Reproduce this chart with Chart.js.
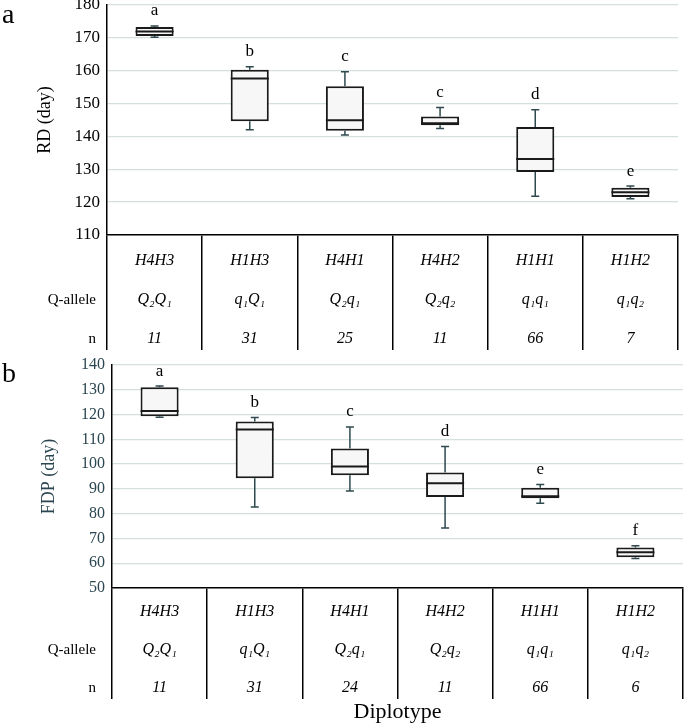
<!DOCTYPE html>
<html>
<head>
<meta charset="utf-8">
<script src="https://cdn.jsdelivr.net/npm/chart.js@4.4.1/dist/chart.umd.min.js"></script>
<style>
  html, body { margin: 0; padding: 0; background: #fff; }
  #wrap { position: relative; width: 685px; height: 724px; overflow: hidden; }
  canvas { position: absolute; left: 0; }
  #chartA { top: 0; }
  #chartB { top: 355px; }
</style>
</head>
<body>
<div id="wrap">
  <canvas id="chartA" width="685" height="355"></canvas>
  <canvas id="chartB" width="685" height="369"></canvas>
</div>
<script>
// categories
const diplotypes = ['H4H3', 'H1H3', 'H4H1', 'H4H2', 'H1H1', 'H1H2'];
const qAlleles = ['Q₂Q₁', 'q₁Q₁', 'Q₂q₁', 'Q₂q₂', 'q₁q₁', 'q₁q₂'];

// (a) RD (day)
const rdN = [11, 31, 25, 11, 66, 7];
const rdMin = [170.2, 142.0, 140.4, 142.4, 121.8, 121.0];
const rdQ1 = [170.6, 144.6, 141.7, 143.4, 129.2, 121.6];
const rdMedian = [171.9, 157.6, 144.9, 144.0, 133.1, 123.0];
const rdQ3 = [173.3, 160.3, 155.3, 146.1, 142.9, 124.4];
const rdMax = [173.6, 161.2, 159.7, 148.8, 148.1, 124.9];
const rdLetters = ['a', 'b', 'c', 'c', 'd', 'e'];

// (b) FDP (day)
const fdpN = [11, 31, 24, 11, 66, 6];
const fdpMin = [118.9, 82.7, 89.1, 74.2, 84.2, 61.9];
const fdpQ1 = [119.3, 94.3, 95.5, 86.7, 86.2, 62.4];
const fdpMedian = [121.4, 114.0, 99.0, 92.3, 87.0, 64.4];
const fdpQ3 = [131.0, 117.2, 106.3, 96.6, 90.5, 66.3];
const fdpMax = [131.5, 118.8, 115.0, 107.1, 91.8, 67.1];
const fdpLetters = ['a', 'b', 'c', 'd', 'e', 'f'];

const SERIF = '"Liberation Serif", "Times New Roman", serif';

// whiskers, medians, significance letters, table row headers, panel letter
const boxExtras = {
  id: 'boxExtras',
  afterDatasetsDraw(chart, args, opts) {
    const { ctx } = chart;
    const x = chart.scales.x, y = chart.scales.y;
    const bars = chart.getDatasetMeta(0).data;
    ctx.save();
    opts.min.forEach((lo, i) => {
      const cx = x.getPixelForValue(i);
      const hw = bars[i].width / 2;
      const yMin = y.getPixelForValue(lo);
      const yMax = y.getPixelForValue(opts.max[i]);
      const yQ1 = y.getPixelForValue(opts.q1[i]);
      const yQ3 = y.getPixelForValue(opts.q3[i]);
      const yMed = y.getPixelForValue(opts.median[i]);

      ctx.strokeStyle = '#2f4a4f';
      ctx.lineWidth = 1.5;
      ctx.beginPath();
      ctx.moveTo(cx, yQ3); ctx.lineTo(cx, yMax);
      ctx.moveTo(cx - 4, yMax); ctx.lineTo(cx + 4, yMax);
      ctx.moveTo(cx, yQ1); ctx.lineTo(cx, yMin);
      ctx.moveTo(cx - 4, yMin); ctx.lineTo(cx + 4, yMin);
      ctx.stroke();

      ctx.strokeStyle = '#1a1a1a';
      ctx.lineWidth = 2;
      ctx.beginPath();
      ctx.moveTo(cx - hw, yMed); ctx.lineTo(cx + hw, yMed);
      ctx.stroke();

      ctx.fillStyle = '#000';
      ctx.font = '17px ' + SERIF;
      ctx.textAlign = 'center';
      ctx.textBaseline = 'middle';
      ctx.fillText(opts.letters[i], cx, yMax - 15);
    });

    // row headers of the table under the axis
    const xo = chart.options.scales.x;
    const lh = parseFloat(xo.ticks.font.lineHeight);
    const first = x.top + xo.grid.tickLength + xo.ticks.padding + lh / 2;
    ctx.fillStyle = '#000';
    ctx.font = '15px ' + SERIF;
    ctx.textAlign = 'right';
    ctx.textBaseline = 'middle';
    ctx.fillText('Q-allele', 96, first + lh);
    ctx.fillText('n', 96, first + 2 * lh);

    ctx.font = '28px ' + SERIF;
    ctx.textAlign = 'left';
    ctx.textBaseline = 'alphabetic';
    ctx.fillText(opts.panel, 2, opts.panelY);
    ctx.restore();
  }
};

function buildChart(id, cfg) {
  const labels = diplotypes.map((d, i) => [d, qAlleles[i], String(cfg.n[i])]);
  return new Chart(document.getElementById(id), {
    type: 'bar',
    data: {
      labels: labels,
      datasets: [{
        data: cfg.q1.map((v, i) => [v, cfg.q3[i]]),
        backgroundColor: '#f7f7f7',
        borderColor: '#1a1a1a',
        borderWidth: 2,
        borderSkipped: false,
        barPercentage: 0.4,
        categoryPercentage: 1
      }]
    },
    options: {
      responsive: false,
      animation: false,
      layout: { padding: cfg.padding },
      plugins: {
        legend: { display: false },
        tooltip: { enabled: false },
        boxExtras: {
          min: cfg.min, q1: cfg.q1, median: cfg.median, q3: cfg.q3, max: cfg.max,
          letters: cfg.letters, panel: cfg.panel, panelY: cfg.panelY
        }
      },
      scales: {
        x: {
          offset: true,
          grid: { offset: true, drawOnChartArea: false, drawTicks: true, tickLength: cfg.tickLength, color: '#000', lineWidth: 1.5 },
          border: { color: '#000', width: 1.5 },
          ticks: {
            autoSkip: false, maxRotation: 0, padding: cfg.tickPad, color: '#000',
            font: { family: SERIF, size: 16, style: 'italic', lineHeight: cfg.rowGap + 'px' }
          },
          title: {
            display: !!cfg.xTitle, text: cfg.xTitle, color: '#000',
            font: { family: SERIF, size: 22, lineHeight: 1.1 }, padding: { top: 0, bottom: 0 }
          },
          afterFit(s) { s.height = cfg.xHeight; s.paddingLeft = 0; s.paddingRight = 0; }
        },
        y: {
          min: cfg.yMin, max: cfg.yMax,
          ticks: { stepSize: 10, padding: 7, color: cfg.textColor, font: { family: SERIF, size: cfg.tickSize } },
          grid: { color: '#d5e0dd', lineWidth: 1.3, drawTicks: false },
          border: { color: '#000', width: 1.5 },
          title: {
            display: true, text: cfg.yTitle, color: cfg.textColor,
            font: { family: SERIF, size: 18 }, padding: { top: cfg.titlePad, bottom: 0 }
          },
          afterFit(s) { s.width = cfg.yWidth; s.paddingTop = 0; s.paddingBottom = 0; }
        }
      }
    },
    plugins: [boxExtras]
  });
}

buildChart('chartA', {
  n: rdN, min: rdMin, q1: rdQ1, median: rdMedian, q3: rdQ3, max: rdMax, letters: rdLetters,
  yMin: 110, yMax: 180, yTitle: 'RD (day)', textColor: '#000', tickSize: 17, titlePad: 34,
  padding: { top: 5, right: 7, left: 0, bottom: 0 }, yWidth: 107, xHeight: 120,
  tickLength: 115, tickPad: -108.5, rowGap: 39, panel: 'a', panelY: 23
});

buildChart('chartB', {
  n: fdpN, min: fdpMin, q1: fdpQ1, median: fdpMedian, q3: fdpQ3, max: fdpMax, letters: fdpLetters,
  yMin: 50, yMax: 140, yTitle: 'FDP (day)', textColor: '#2b4650', tickSize: 16, titlePad: 38,
  padding: { top: 10, right: 2, left: 0, bottom: 0 }, yWidth: 112, xHeight: 136,
  tickLength: 111, tickPad: -106, rowGap: 38, panel: 'b', panelY: 27,
  xTitle: 'Diplotype'
});
</script>
</body>
</html>
